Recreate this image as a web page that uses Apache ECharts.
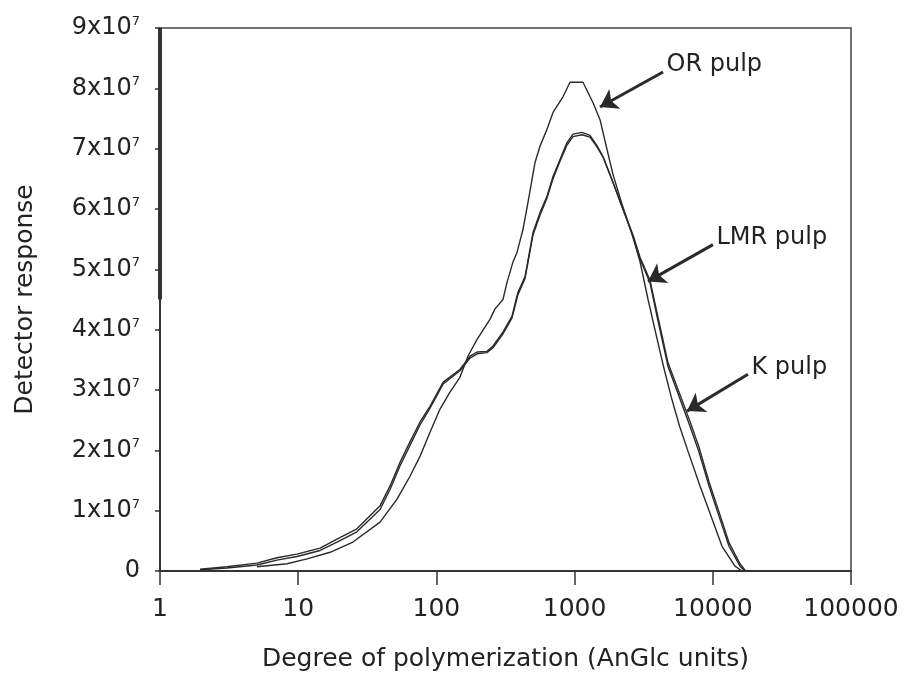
<!DOCTYPE html>
<html><head><meta charset="utf-8">
<script src="https://cdn.jsdelivr.net/npm/echarts@6/dist/echarts.min.js"></script>
<style>html,body{margin:0;padding:0;background:#fff}#c{width:907px;height:677px}</style>
</head><body><div id="c"></div>
<script>
// Degree of polymerization (x) and detector response in units of 1e7 (y)
const orDP   = [5.03,8.30,11.6,17.0,24.9,39.1,51.9,64.4,76.1,89.9,106,125,148,169,197,244,265,303,324,358,383,423,460,492,517,562,631,698,824,926,1150,1359,1527,1605,1715,1897,2203,2603,2973,3400,3850,4400,5050,5750,6650,8078,9705,11660,14470,16270];
const orResp = [0.07,0.12,0.20,0.31,0.48,0.81,1.19,1.57,1.90,2.30,2.68,2.96,3.21,3.56,3.84,4.17,4.34,4.50,4.78,5.12,5.28,5.66,6.11,6.49,6.77,7.04,7.32,7.60,7.86,8.10,8.10,7.76,7.48,7.27,6.99,6.57,6.08,5.58,5.13,4.50,3.96,3.39,2.85,2.40,1.97,1.41,0.91,0.41,0.08,0];

const lmrDP   = [1.95,3.05,5.03,7.02,9.80,14.4,19.1,26.6,39.1,46.2,54.5,64.4,76.1,89.9,112,148,175,197,232,257,303,352,389,438,500,562,631,698,784,881,974,1131,1292,1452,1605,1897,2240,2646,2973,3512,3947,4741,5789,6839,7946,9387,11090,13100,15730,17100];
const lmrResp = [0.03,0.07,0.13,0.22,0.28,0.38,0.53,0.70,1.08,1.41,1.80,2.14,2.47,2.73,3.13,3.34,3.56,3.63,3.64,3.73,3.96,4.22,4.62,4.88,5.61,5.94,6.21,6.54,6.82,7.10,7.24,7.27,7.22,7.05,6.87,6.44,5.99,5.55,5.17,4.78,4.22,3.39,2.85,2.40,1.97,1.41,0.91,0.41,0.08,0];

const kDP   = [1.95,3.05,5.03,7.02,9.80,14.4,19.1,26.6,39.1,46.2,54.5,64.4,76.1,89.9,112,148,175,197,232,257,303,352,389,438,500,562,631,698,784,881,974,1131,1292,1452,1605,1897,2240,2646,2973,3512,3947,4741,5789,6839,7946,9387,11090,13100,15730,17300];
const kResp = [0.02,0.05,0.10,0.18,0.24,0.34,0.48,0.65,1.02,1.35,1.74,2.08,2.42,2.70,3.10,3.32,3.53,3.60,3.62,3.70,3.93,4.19,4.58,4.85,5.57,5.90,6.18,6.50,6.79,7.06,7.20,7.23,7.19,7.03,6.86,6.44,6.00,5.57,5.20,4.82,4.28,3.45,2.92,2.48,2.05,1.48,0.98,0.47,0.12,0];

const xTicks = [1,10,100,1000,10000,100000];

// annotation labels and arrow (tail -> head) in data coordinates
const noteLabels = ['OR pulp','LMR pulp','K pulp'];
const noteTailDP = [4363,10030,17970];
const noteTailY  = [8.27,5.41,3.26];
const noteHeadDP = [1527,3397,6506];
const noteHeadY  = [7.69,4.80,2.65];

const E7 = 1e7;
const FONT = 'DejaVu Sans';
const pairs = (xs, ys) => xs.map((x, i) => [x, ys[i] * E7]);

const chart = echarts.init(document.getElementById('c'), null, {renderer: 'canvas'});

const lineSeries = (name, xs, ys) => ({
  name, type: 'line', data: pairs(xs, ys), showSymbol: false, smooth: false,
  silent: true, lineStyle: {color: '#2a2a2a', width: 1.4}, z: 3
});

const orS = lineSeries('OR pulp', orDP, orResp);
const lmrS = lineSeries('LMR pulp', lmrDP, lmrResp);
const kS = lineSeries('K pulp', kDP, kResp);

orS.markLine = {
  silent: true, animation: false,
  symbol: ['none', 'arrow'], symbolSize: 17,
  lineStyle: {color: '#2a2a2a', width: 3, type: 'solid'},
  label: {show: false},
  data: noteLabels.map((n, i) => [
    {coord: [noteTailDP[i], noteTailY[i] * E7]},
    {coord: [noteHeadDP[i], noteHeadY[i] * E7]}
  ]).concat([[
    {coord: [1, 4.5 * E7], symbol: 'none', lineStyle: {width: 4, color: '#333'}},
    {coord: [1, 9 * E7], symbol: 'none'}
  ]])
};
orS.markPoint = {
  silent: true, animation: false,
  symbol: 'rect', symbolSize: 1, itemStyle: {color: 'rgba(0,0,0,0)'},
  label: {show: true, position: 'right', distance: 3, offset: [0, -7],
          color: '#222', fontFamily: FONT, fontSize: 24,
          formatter: p => p.name},
  data: noteLabels.map((n, i) => ({name: n, coord: [noteTailDP[i], noteTailY[i] * E7]}))
};

chart.setOption({
  animation: false,
  backgroundColor: '#fff',
  grid: {left: 160, right: 56, top: 28, bottom: 105, show: true,
         borderColor: '#444', borderWidth: 1.5, backgroundColor: 'transparent'},
  xAxis: {
    type: 'log', logBase: 10, min: xTicks[0], max: xTicks[xTicks.length - 1],
    name: 'Degree of polymerization (AnGlc units)', nameLocation: 'middle', nameGap: 76,
    nameTextStyle: {fontFamily: FONT, fontSize: 25, color: '#222'},
    axisLine: {show: true, lineStyle: {color: '#333', width: 2}},
    axisTick: {show: true, inside: false, length: 14, lineStyle: {color: '#333', width: 1.5}},
    minorTick: {show: false},
    splitLine: {show: false},
    axisLabel: {margin: 26, fontFamily: FONT, fontSize: 25, color: '#222',
                formatter: v => String(Math.round(v))}
  },
  yAxis: {
    type: 'value', min: 0, max: 9 * E7, interval: E7,
    name: 'Detector response', nameLocation: 'middle', nameGap: 122,
    nameTextStyle: {fontFamily: FONT, fontSize: 25, color: '#222'},
    axisLine: {show: true, lineStyle: {color: '#333', width: 2}},
    axisTick: {show: true, inside: false, length: 5, lineStyle: {color: '#333', width: 1.5}},
    splitLine: {show: false},
    axisLabel: {
      margin: 20, color: '#222',
      formatter: v => {
        const n = Math.round(v / E7);
        return n === 0 ? '{b|0}' : '{b|' + n + 'x10}{s|7}';
      },
      rich: {
        b: {fontFamily: FONT, fontSize: 24, color: '#222', lineHeight: 26},
        s: {fontFamily: FONT, fontSize: 13, color: '#222', lineHeight: 13, verticalAlign: 'top'}
      }
    }
  },
  series: [orS, lmrS, kS]
});
</script>
</body></html>
